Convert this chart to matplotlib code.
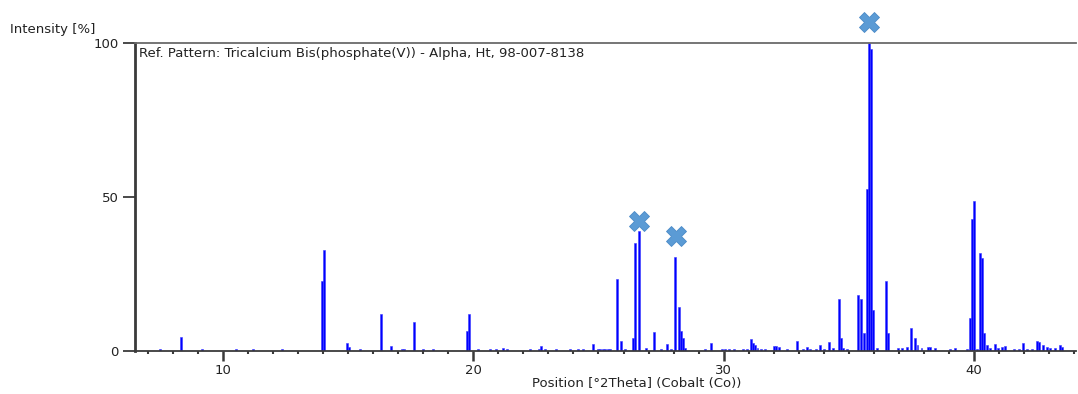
import matplotlib
matplotlib.use("Agg")
import matplotlib.pyplot as plt
from matplotlib.ticker import MultipleLocator

# Reference pattern: peak positions [deg 2Theta] and relative intensities [%]
positions = [
    7.49, 8.33, 9.17, 10.51, 11.19, 12.36, 13.97, 14.04, 14.97, 15.03,
    15.47, 16.31, 16.73, 17.15, 17.22, 17.64, 18.00, 18.40, 19.76, 19.84,
    20.20, 20.67, 20.90, 21.20, 21.33, 22.26, 22.62, 22.69, 22.86, 23.29,
    23.86, 24.19, 24.39, 24.79, 24.99, 25.19, 25.39, 25.05, 25.25, 25.45,
    25.73, 25.89, 26.06, 26.39, 26.47, 26.63, 26.90, 27.23, 27.48, 27.72,
    27.90, 28.06, 28.22, 28.30, 28.37, 28.46, 29.25, 29.49, 29.92, 30.05,
    30.20, 30.40, 30.76, 30.92, 31.09, 31.16, 31.25, 31.35, 31.50, 31.65,
    32.00, 32.10, 32.20, 32.52, 32.92, 33.18, 33.34, 33.45, 33.69, 33.85,
    34.00, 34.19, 34.38, 34.62, 34.69, 34.78, 34.91, 35.37, 35.47, 35.61,
    35.71, 35.79, 35.88, 35.95, 36.14, 36.48, 36.57, 36.97, 37.11, 37.31,
    37.47, 37.64, 37.74, 37.90, 38.17, 38.25, 38.45, 39.05, 39.25, 39.72,
    39.82, 39.92, 40.01, 40.12, 40.25, 40.33, 40.41, 40.52, 40.65, 40.85,
    40.94, 41.11, 41.22, 41.58, 41.78, 41.95, 42.11, 42.31, 42.50, 42.60,
    42.76, 42.90, 43.03, 43.23, 43.43, 43.52,
]
intensities = [
    0.6, 4.4, 0.6, 0.6, 0.6, 0.6, 22.8, 32.8, 2.7, 1.3,
    0.5, 12.0, 1.6, 0.6, 0.6, 9.3, 0.6, 0.6, 6.5, 12.0,
    0.5, 0.5, 0.5, 1.0, 0.8, 0.5, 0.5, 1.6, 0.5, 0.6,
    0.7, 0.5, 0.5, 2.2, 0.5, 0.5, 0.5, 0.5, 0.5, 0.5,
    23.3, 3.3, 0.6, 4.1, 35.0, 39.0, 1.0, 6.1, 0.8, 2.3,
    0.8, 30.4, 14.2, 6.5, 4.1, 1.0, 0.6, 2.7, 0.5, 0.5,
    0.5, 0.5, 0.6, 0.6, 3.8, 2.5, 2.0, 1.0, 0.7, 0.7,
    1.6, 1.6, 1.2, 0.6, 3.1, 0.8, 1.2, 0.7, 0.6, 2.0,
    0.8, 2.8, 1.0, 16.9, 4.1, 1.0, 0.8, 18.2, 16.8, 5.7,
    52.5, 100.0, 98.0, 13.3, 1.0, 22.7, 5.7, 1.0, 1.0, 1.2,
    7.4, 4.1, 2.0, 1.0, 1.2, 1.2, 1.0, 0.6, 1.0, 0.8,
    10.6, 43.0, 48.7, 0.8, 31.9, 30.1, 5.7, 2.0, 1.0, 2.3,
    1.0, 1.2, 1.5, 0.8, 0.8, 2.5, 0.7, 0.8, 3.3, 2.8,
    2.0, 1.2, 1.0, 1.0, 2.0, 1.3,
]

# Peaks flagged as matched with the sample pattern
marked_pos = [26.63, 28.10, 35.79]
marked_y = [42.2, 37.3, 106.8]

x_ticks = [10, 20, 30, 40]
y_ticks = [0, 50, 100]

W, H = 1078, 394
fig = plt.figure(figsize=(W / 100, H / 100), dpi=100)
ax = fig.add_axes([135 / W, 43 / H, (1076 - 135) / W, 308 / H])

ax.bar(positions, intensities, width=0.075, color="#0000ff",
       edgecolor="#3a3aff", linewidth=0.4, zorder=2)

ax.plot(marked_pos, marked_y, linestyle="none", marker="X", markersize=15,
        color="#5b9bd5", markeredgecolor="#4a8ac8", markeredgewidth=0.6,
        clip_on=False, zorder=4)

ax.set_xlim(6.49, 44.07)
ax.set_ylim(0, 100)

ax.set_xticks(x_ticks)
ax.xaxis.set_minor_locator(MultipleLocator(1))
ax.set_yticks(y_ticks)

axis_color = "#3a3a3a"
text_color = "#222222"
ax.spines["right"].set_visible(False)
ax.spines["left"].set_color(axis_color)
ax.spines["left"].set_linewidth(2.0)
ax.spines["bottom"].set_color(axis_color)
ax.spines["bottom"].set_linewidth(1.3)
ax.spines["top"].set_color("#6a6a6a")
ax.spines["top"].set_linewidth(1.3)

ax.tick_params(axis="x", which="major", direction="out", length=7, width=1.8,
               color=axis_color, labelsize=9.5, labelcolor=text_color, pad=2)
ax.tick_params(axis="x", which="minor", direction="out", length=2.5, width=1.5,
               color=axis_color)
ax.tick_params(axis="y", which="major", direction="out", length=9, width=1.3,
               color=axis_color, labelsize=9.5, labelcolor=text_color, pad=3)

ax.text(0.004, 0.987, "Ref. Pattern: Tricalcium Bis(phosphate(V)) - Alpha, Ht, 98-007-8138",
        transform=ax.transAxes, ha="left", va="top", fontsize=9.5, color=text_color)

fig.text(10 / W, 1 - 30 / H, "Intensity [%]", ha="left", va="center",
         fontsize=9.5, color=text_color)
fig.text(637 / W, 1 - 384 / H, "Position [°2Theta] (Cobalt (Co))", ha="center",
         va="center", fontsize=9.5, color=text_color)

fig.savefig("out.png", dpi=100)
